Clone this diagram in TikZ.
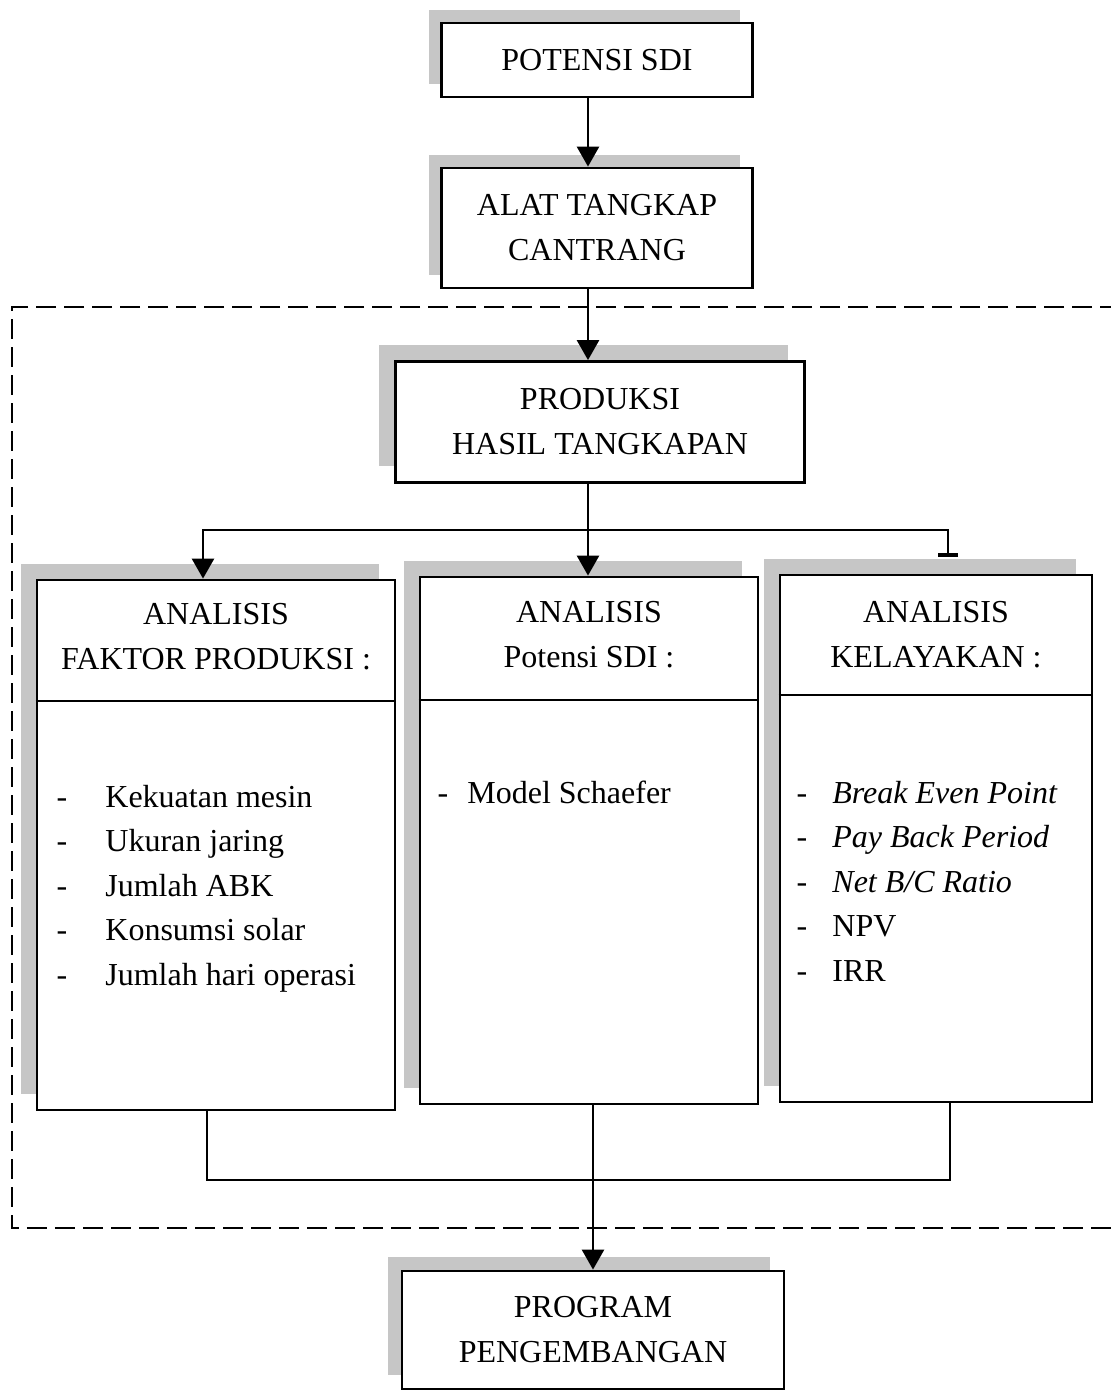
\documentclass[tikz,border=0pt]{standalone}
\usepackage{fontspec}
\setmainfont{Liberation Serif}
\usetikzlibrary{arrows.meta,shadows}

\tikzset{
  box/.style={draw, line width=1.4pt, fill=white, inner sep=0pt, align=center,
    font=\fontsize{16}{22.5}\selectfont},
  shd/.style={drop shadow={shadow xshift=-#1, shadow yshift=#1, fill=gray!45, opacity=1}},
  txt/.style={inner sep=0pt, align=center, font=\fontsize{16}{22.5}\selectfont},
  conn/.style={line width=1.3pt},
  arr/.style={conn, -{Triangle[width=11pt,length=10pt]}},
}

\begin{document}
\begin{tikzpicture}[x=0.5pt, y=-0.5pt]
\useasboundingbox (0,0) rectangle (1110,1392);

% dashed frame, open on the right
\draw[line width=1.3pt, dash pattern=on 10pt off 4pt] (1120,307) -- (12,307) -- (12,1228) -- (1120,1228);

% top chain
\node[box, shd=6.5pt, minimum width=155.5pt, minimum height=37pt] (pot) at (597,60) {POTENSI SDI};
\node[box, shd=6.5pt, minimum width=155.5pt, minimum height=60pt] (alat) at (597,228) {ALAT TANGKAP\\CANTRANG};
\node[box, shd=8.5pt, minimum width=204.5pt, minimum height=60.5pt] (prod) at (600,422) {PRODUKSI\\HASIL TANGKAPAN};

% analysis boxes
\node[box, shd=8pt, minimum width=179pt, minimum height=265pt] (fp) at (216,845) {};
\node[box, shd=8pt, minimum width=169pt, minimum height=263.5pt] (ps) at (589,840.5) {};
\node[box, shd=8pt, minimum width=156pt, minimum height=263.5pt] (kl) at (936,838.5) {};
\draw[line width=1.4pt] (fp.west |- 0,701) -- (fp.east |- 0,701);
\draw[line width=1.4pt] (ps.west |- 0,700) -- (ps.east |- 0,700);
\draw[line width=1.4pt] (kl.west |- 0,695) -- (kl.east |- 0,695);

\node[txt] (fph) at (216,637) {ANALISIS\\FAKTOR PRODUKSI :};
\node[txt] (psh) at (589,635) {ANALISIS\\Potensi SDI :};
\node[txt] (klh) at (936,635) {ANALISIS\\KELAYAKAN :};

\foreach \t [count=\i] in {Kekuatan mesin, Ukuran jaring, Jumlah ABK, Konsumsi solar, Jumlah hari operasi}
{
  \pgfmathsetmacro\yy{807+44.5*(\i-1)}
  \node[txt, anchor=base] (fpd\i) at (62,\yy) {-};
  \node[txt, anchor=base west] (fpi\i) at (105,\yy) {\t};
}

\node[txt, anchor=base] (psd1) at (443,803) {-};
\node[txt, anchor=base west] (psi1) at (467,803) {Model Schaefer};

\foreach \t [count=\i] in {\textit{Break Even Point}, \textit{Pay Back Period}, \textit{Net B/C Ratio}, NPV, IRR}
{
  \pgfmathsetmacro\yy{803+44.5*(\i-1)}
  \node[txt, anchor=base] (kld\i) at (802,\yy) {-};
  \node[txt, anchor=base west] (kli\i) at (832,\yy) {\t};
}

% bottom box
\node[box, shd=7pt, minimum width=191pt, minimum height=59pt] (prog) at (593,1330) {PROGRAM\\PENGEMBANGAN};

% connectors
\coordinate (spine) at (588,0);
\coordinate (split) at (588,530);
\coordinate (join) at (592,1180);
\draw[arr] (pot.south -| spine) -- (alat.north -| spine);
\draw[arr] (alat.south -| spine) -- (prod.north -| spine);
\draw[conn] (prod.south -| split) -- (split);
\draw[arr] (split) -| ([xshift=-6.5pt]fp.north);
\draw[arr] (split) -- (split |- ps.north);
\draw[conn, -{Bar[width=10pt, line width=2pt]}] (split) -| ([shift={(6pt,8.5pt)}]kl.north);
\draw[conn] ([xshift=-4.5pt]fp.south) |- (join) -| ([xshift=7pt]kl.south);
\draw[arr] (ps.south -| prog.north) -- (prog.north);
\end{tikzpicture}
\end{document}
